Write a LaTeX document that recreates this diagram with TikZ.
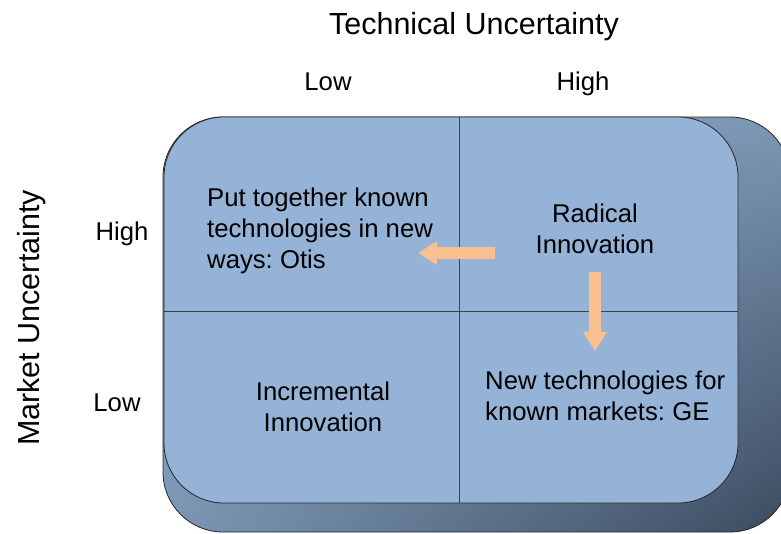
\documentclass[tikz,border=0pt]{standalone}
\usepackage{fontspec}
\setmainfont{Liberation Sans}
\frenchspacing
\usetikzlibrary{arrows.meta,positioning,shadings}
\definecolor{quadblue}{HTML}{95B3D7}
\definecolor{backlight}{HTML}{8DA7C3}
\definecolor{backmid}{HTML}{7C97B4}
\definecolor{backdark}{HTML}{3B4B5E}
\definecolor{arroworange}{HTML}{FAC08F}
\tikzset{
    %Define style for texts
    quadtext/.style={
           align=center,
           inner sep=0pt,
           font=\fontsize{25.7}{31}\selectfont},
    qleft/.style={
           quadtext,
           align=left},
    axislabel/.style={
           inner sep=0pt,
           font=\fontsize{30.5}{36}\selectfont},
    ticklabel/.style={
           inner sep=0pt,
           font=\fontsize{25.7}{31}\selectfont},
    % Define arrow style
    blockarr/.style={
           -{Triangle[width=23pt,length=19pt]},
           line width=11.5pt,
           draw=arroworange}
}

\begin{document}
\begin{tikzpicture}[x=1pt, y=-1pt]
    \useasboundingbox (0,0) rectangle (781,533);
    % MATRIX
    \begin{scope}
        \clip (0,0) rectangle (781,533);
        \shade[upper left=backlight, upper right=backmid, lower left=backmid,
               lower right=backdark, rounded corners=60pt]
            (163,117) rectangle (790,532);
        \draw[black!85, line width=0.8pt, rounded corners=60pt]
            (163,117) rectangle (790,532);
    \end{scope}
    \filldraw[fill=quadblue, draw=black!85, line width=0.8pt, rounded corners=60pt]
        (164,117) rectangle (738,503);
    \draw[black!75, line width=0.8pt] (459,117) -- (459,503);
    \draw[black!75, line width=0.8pt] (164,311) -- (738,311);

    % AXES
    \node[axislabel] (techaxis) at (474,27) {Technical Uncertainty};
    \node[ticklabel] (techlow) at (328,82) {Low};
    \node[ticklabel] (techhigh) at (583,84) {High};
    \node[axislabel, rotate=90] (marketaxis) at (32,318) {Market Uncertainty};
    \node[ticklabel] (markethigh) at (122,234) {High};
    \node[ticklabel] (marketlow) at (117,403) {Low};

    % QUADRANTS
    \node[qleft, anchor=west] (otis) at (207,231)
        {Put together known\\technologies in new\\ways: Otis};
    \node[quadtext] (radical) at (595,229) {Radical\\Innovation};
    \node[quadtext] (incremental) at (323,407) {Incremental\\Innovation};
    \node[qleft, anchor=west] (ge) at (485,396)
        {New technologies for\\known markets: GE};

    \draw[blockarr] ([xshift=-41pt, yshift=-24pt]radical.west)
        -- ([xshift=-15pt, yshift=-22pt]otis.east);
    \draw[blockarr] ([yshift=-18pt]radical.south)
        -- ([yshift=20pt]radical.south |- ge.north);
\end{tikzpicture}
\end{document}
